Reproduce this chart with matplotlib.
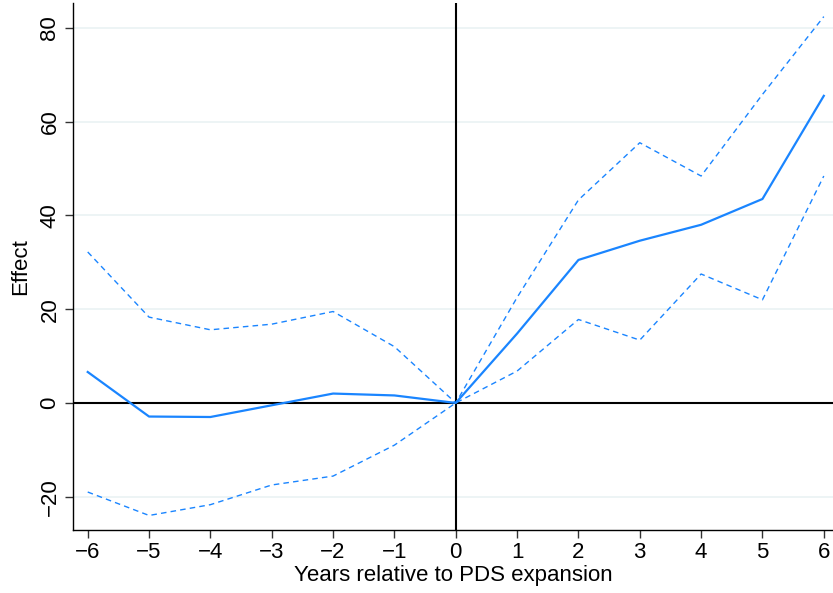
import matplotlib.pyplot as plt

plt.rcParams['font.family'] = ['Liberation Sans', 'DejaVu Sans']

years = [-6, -5, -4, -3, -2, -1, 0, 1, 2, 3, 4, 5, 6]
effect = [6.6, -2.9, -3.0, -0.5, 2.0, 1.6, 0.0, 14.8, 30.5, 34.6, 38.0, 43.5, 65.5]
ci_upper = [32.2, 18.3, 15.6, 16.8, 19.5, 12.0, 0.0, 22.5, 43.3, 55.5, 48.4, 65.8, 82.4]
ci_lower = [-19.0, -24.0, -21.7, -17.5, -15.6, -9.0, 0.0, 6.8, 17.8, 13.4, 27.5, 22.0, 48.4]

yticks = [-20, 0, 20, 40, 60, 80]
blue = '#1a85ff'

fig = plt.figure(figsize=(8.33, 5.93), dpi=100)
ax = fig.add_axes([73 / 833, 63 / 593, 760 / 833, 527 / 593])

for y in yticks:
    ax.axhline(y, color='#eaf2f3', linewidth=1.2, zorder=0)
ax.axhline(0, color='black', linewidth=1.5, zorder=1)
ax.axvline(0, color='black', linewidth=1.5, zorder=1)

ax.plot(years, effect, color=blue, linewidth=1.6, zorder=3)
ax.plot(years, ci_upper, color=blue, linewidth=1.0, linestyle=(0, (4, 3)), zorder=3)
ax.plot(years, ci_lower, color=blue, linewidth=1.0, linestyle=(0, (4, 3)), zorder=3)

ax.set_xlim(-6.24, 6.15)
ax.set_ylim(-27.1, 85.3)
ax.set_xticks(years)
ax.set_xticklabels([str(v).replace('-', '\u2212') for v in years])
ax.set_yticks(yticks)
ax.set_yticklabels([str(v).replace('-', '\u2212') for v in yticks], rotation=90, va='center')
ax.tick_params(labelsize=16, length=6, width=1, color='#333333', pad=3)

for side in ['top', 'right']:
    ax.spines[side].set_visible(False)
ax.spines['left'].set_linewidth(1.0)
ax.spines['bottom'].set_linewidth(1.0)

ax.set_xlabel('Years relative to PDS expansion', fontsize=16, labelpad=1)
ax.set_ylabel('Effect', fontsize=16, labelpad=6)

plt.savefig('out.png', dpi=100)
plt.close()
